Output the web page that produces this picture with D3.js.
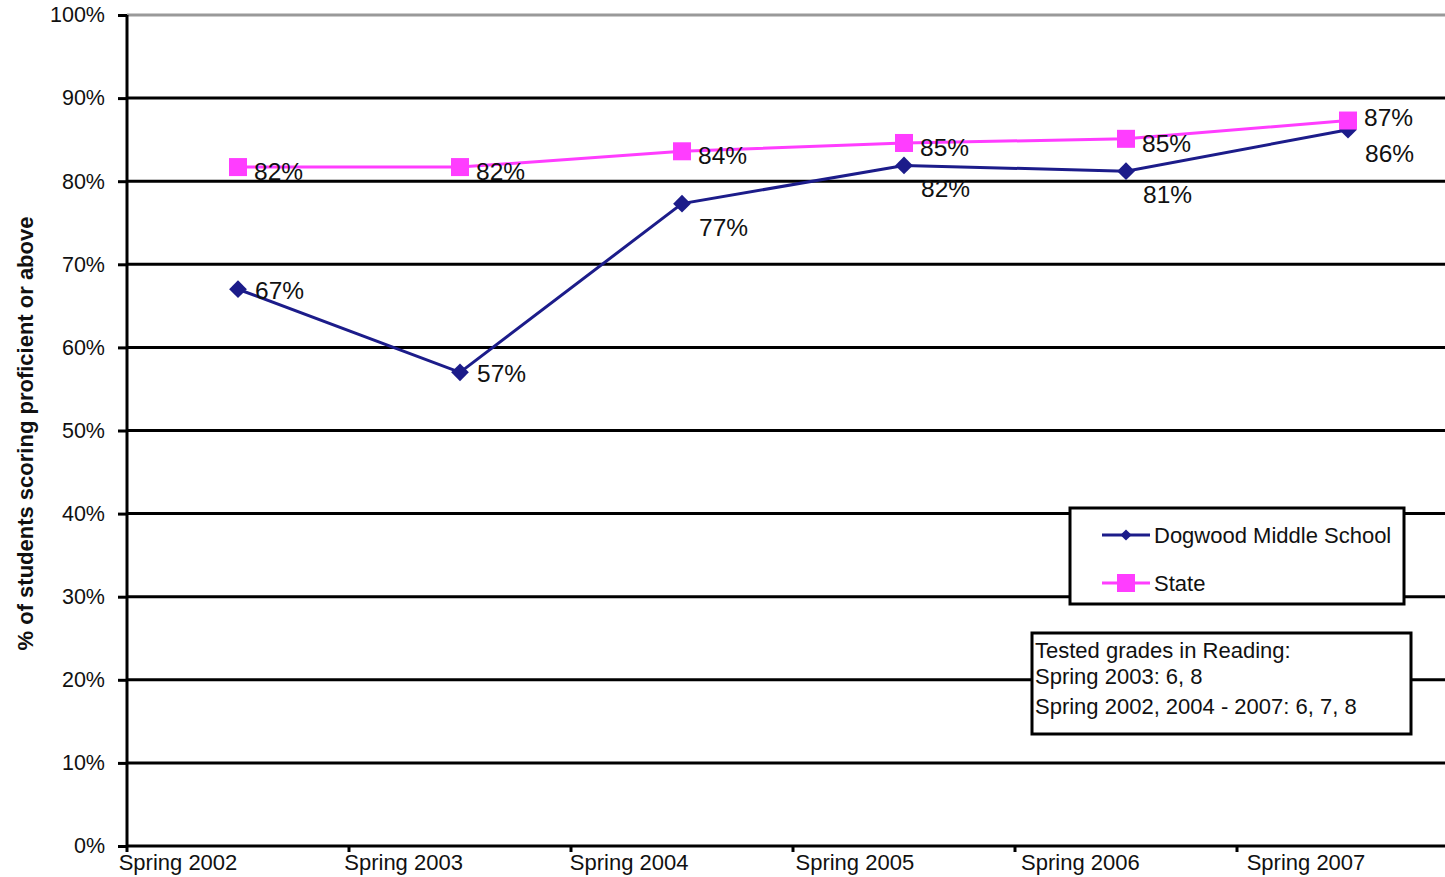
<!DOCTYPE html>
<html>
<head>
<meta charset="utf-8">
<script src="https://cdn.jsdelivr.net/npm/d3@7"></script>
<style>
  body { margin: 0; background: #fff; }
  svg { display: block; font-family: "Liberation Sans", Arial, sans-serif; }
</style>
</head>
<body>
<div id="chart"></div>
<script>
const years = ['Spring 2002', 'Spring 2003', 'Spring 2004', 'Spring 2005', 'Spring 2006', 'Spring 2007'];
const dogwood = [67, 57, 77.3, 81.9, 81.2, 86.2];
const state = [81.7, 81.7, 83.6, 84.6, 85.1, 87.3];
const yTicks = [0, 10, 20, 30, 40, 50, 60, 70, 80, 90, 100];
const notes = ['Tested grades in Reading:', 'Spring 2003: 6, 8', 'Spring 2002, 2004 - 2007: 6, 7, 8'];

const width = 1445, height = 877;
const margin = { top: 15, right: -14, bottom: 31, left: 127 };

const svg = d3.select('#chart').append('svg')
  .attr('width', width)
  .attr('height', height);

const x = d3.scaleBand()
  .domain(years)
  .range([margin.left, width - margin.right]);

// category labels sit left of the band centres in the original
const xLabel = d3.scalePoint()
  .domain(years)
  .range([178, 1306]);

const y = d3.scaleLinear()
  .domain([0, 100])
  .range([height - margin.bottom, margin.top]);

// gridlines
svg.append('g')
  .selectAll('line')
  .data(yTicks.filter(d => d > 0))
  .join('line')
  .attr('x1', margin.left)
  .attr('x2', width)
  .attr('y1', d => y(d))
  .attr('y2', d => y(d))
  .attr('stroke', d => d === 100 ? '#999' : '#000')
  .attr('stroke-width', 3);

// y axis
const yAxis = svg.append('g')
  .attr('transform', `translate(${margin.left},0)`)
  .call(d3.axisLeft(y).tickValues(yTicks).tickFormat(d => d + '%').tickSize(9).tickPadding(13));
yAxis.select('.domain').attr('stroke-width', 3).attr('d', `M0,${y(100)}V${y(0)}`);
yAxis.selectAll('.tick line').attr('stroke-width', 3);
yAxis.selectAll('.tick text').style('font-size', '21.5px').attr('fill', '#111');

// x axis
const xAxis = svg.append('g')
  .attr('transform', `translate(0,${y(0)})`);
xAxis.append('line')
  .attr('x1', margin.left).attr('x2', width)
  .attr('stroke', '#000').attr('stroke-width', 3);
xAxis.selectAll('.xtick')
  .data(years)
  .join('line')
  .attr('class', 'xtick')
  .attr('x1', d => x(d)).attr('x2', d => x(d))
  .attr('y1', 0).attr('y2', 6)
  .attr('stroke', '#000').attr('stroke-width', 3);
xAxis.selectAll('text')
  .data(years)
  .join('text')
  .attr('x', d => xLabel(d))
  .attr('y', 24)
  .attr('text-anchor', 'middle')
  .style('font-size', '22px')
  .attr('fill', '#111')
  .text(d => d);

// y axis title
svg.append('text')
  .attr('transform', `translate(33,${(y(0) + y(100)) / 2 + 3}) rotate(-90)`)
  .attr('text-anchor', 'middle')
  .style('font-size', '22px')
  .style('font-weight', 'bold')
  .attr('fill', '#111')
  .text('% of students scoring proficient or above');

const cx = d => x(d) + x.bandwidth() / 2;
const navy = '#1c1c8a';
const pink = '#ff3dff';

const line = d3.line()
  .x((d, i) => cx(years[i]))
  .y(d => y(d));

svg.append('path')
  .datum(dogwood)
  .attr('d', line)
  .attr('fill', 'none')
  .attr('stroke', navy)
  .attr('stroke-width', 3);

svg.append('path')
  .datum(state)
  .attr('d', line)
  .attr('fill', 'none')
  .attr('stroke', pink)
  .attr('stroke-width', 3);

const diamond = d3.symbol().type(d3.symbolDiamond2).size(200);

svg.append('g')
  .selectAll('path')
  .data(dogwood)
  .join('path')
  .attr('transform', (d, i) => `translate(${cx(years[i])},${y(d)})`)
  .attr('d', diamond)
  .attr('fill', navy);

svg.append('g')
  .selectAll('rect')
  .data(state)
  .join('rect')
  .attr('x', (d, i) => cx(years[i]) - 9)
  .attr('y', d => y(d) - 9)
  .attr('width', 18)
  .attr('height', 18)
  .attr('fill', pink);

// data labels
svg.append('g')
  .selectAll('text')
  .data(state)
  .join('text')
  .attr('x', (d, i) => cx(years[i]) + 16)
  .attr('y', (d, i) => y(d) + (i === state.length - 1 ? 5 : 13))
  .style('font-size', '24.5px')
  .attr('fill', '#111')
  .text(d => Math.round(d) + '%');

svg.append('g')
  .selectAll('text')
  .data(dogwood)
  .join('text')
  .attr('x', (d, i) => cx(years[i]) + 17)
  .attr('y', (d, i) => y(d) + (state[i] - d < 7 ? 32 : 10))
  .style('font-size', '24.5px')
  .attr('fill', '#111')
  .text(d => Math.round(d) + '%');

// legend
const legend = svg.append('g').attr('transform', 'translate(1070,508)');
legend.append('rect')
  .attr('width', 334).attr('height', 96)
  .attr('fill', '#fff').attr('stroke', '#000').attr('stroke-width', 3);
const entries = [
  { name: 'Dogwood Middle School', color: navy, mark: 'diamond' },
  { name: 'State', color: pink, mark: 'square' }
];
const item = legend.selectAll('.item')
  .data(entries)
  .join('g')
  .attr('class', 'item')
  .attr('transform', (d, i) => `translate(0,${27 + i * 48})`);
item.append('line')
  .attr('x1', 32).attr('x2', 80)
  .attr('stroke', d => d.color).attr('stroke-width', 3);
item.filter(d => d.mark === 'diamond').append('path')
  .attr('transform', 'translate(56,0)')
  .attr('d', d3.symbol().type(d3.symbolDiamond2).size(80))
  .attr('fill', navy);
item.filter(d => d.mark === 'square').append('rect')
  .attr('x', 47).attr('y', -9).attr('width', 18).attr('height', 18)
  .attr('fill', pink);
item.append('text')
  .attr('x', 84).attr('y', 8)
  .style('font-size', '22px')
  .attr('fill', '#111')
  .text(d => d.name);

// notes box
const note = svg.append('g').attr('transform', 'translate(1032,633)');
note.append('rect')
  .attr('width', 379).attr('height', 101)
  .attr('fill', '#fff').attr('stroke', '#000').attr('stroke-width', 3);
note.selectAll('text')
  .data(notes)
  .join('text')
  .attr('x', 3)
  .attr('y', (d, i) => [25, 51, 81][i])
  .style('font-size', '22px')
  .attr('fill', '#111')
  .text(d => d);
</script>
</body>
</html>
